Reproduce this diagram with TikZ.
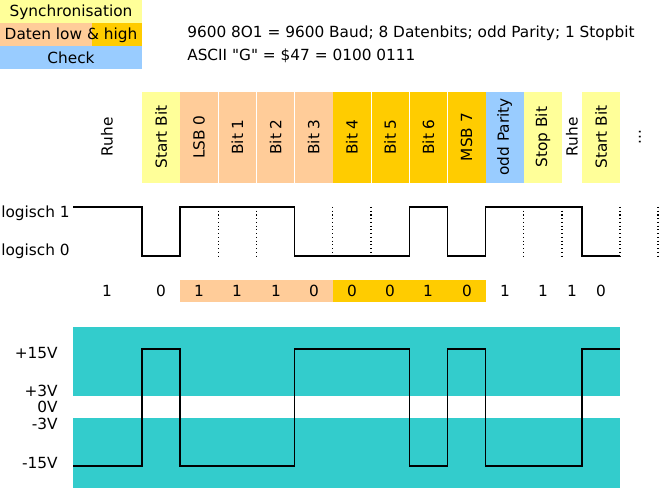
\documentclass[tikz,border=0pt]{standalone}
\usepackage{fontspec}
\setmainfont{DejaVu Sans}
\definecolor{sync}{HTML}{FFFF99}
\definecolor{datlow}{HTML}{FFCC99}
\definecolor{dathigh}{HTML}{FFCC00}
\definecolor{check}{HTML}{99CCFF}
\definecolor{level}{HTML}{33CCCC}
\tikzset{
	txt/.style = {font=\fontsize{11.5}{13}\selectfont, inner sep=0pt},
	hdr/.style = {txt, rotate=90},
	sig/.style = {thick, line join=miter},
	tick/.style = {thick, dotted},
}
\begin{document}
\begin{tikzpicture}[x=0.75pt, y=-0.75pt]
	\useasboundingbox (0,0) rectangle (660,488);
	% ====== Legend ========
	\fill[sync] (0,0) rectangle (142,23);
	\fill[datlow] (0,23) rectangle (92,46);
	\fill[dathigh] (92,23) rectangle (142,46);
	\fill[check] (0,46) rectangle (142,69);
	\node[txt] (lsync) at (71,12) {Synchronisation};
	\node[txt] (ldat) at (71,35) {Daten low \& high};
	\node[txt] (lchk) at (71,58) {Check};
	\node[txt, anchor=west] (info1) at (187,33) {9600 8O1 = 9600 Baud; 8 Datenbits; odd Parity; 1 Stopbit};
	\node[txt, anchor=west] (info2) at (187,56) {ASCII \textquotedbl G\textquotedbl{} = \$47 = 0100 0111};
	% ====== Header ========
	\foreach \x/\c/\t in {142/sync/Start Bit, 180/datlow/LSB 0, 218.2/datlow/Bit 1, 256.4/datlow/Bit 2,
		294.6/datlow/Bit 3, 332.8/dathigh/Bit 4, 371/dathigh/Bit 5, 409.2/dathigh/Bit 6,
		447.4/dathigh/MSB 7, 485.6/check/odd Parity, 523.8/sync/Stop Bit, 582/sync/Start Bit} {
		\fill[\c] (\x,92) rectangle +(38.2,91);
		\node[hdr] at (\x+19.1,137) {\t};
	}
	\foreach \x/\c in {180/datlow, 218.2/datlow, 256.4/datlow, 294.6/datlow, 332.8/dathigh, 371/dathigh, 409.2/dathigh, 447.4/dathigh}
		\fill[\c] (\x,280) rectangle +(38.2,22);
	\draw[white, thin] (218.2,92) -- (218.2,183) (256.4,92) -- (256.4,183) (294.6,92) -- (294.6,183)
		(371,92) -- (371,183) (409.2,92) -- (409.2,183) (447.4,92) -- (447.4,183);
	\node[hdr] (ruhe1) at (107,137) {Ruhe};
	\node[hdr] (ruhe2) at (572,137) {Ruhe};
	\node[hdr] (more) at (640,137) {...};
	% ====== Logic ========
	\node[txt, anchor=east] (log1) at (70,213) {logisch 1};
	\node[txt, anchor=east] (log0) at (70,251) {logisch 0};
	\draw[sig] (73,207) -- (142,207) -- (142,256) -- (180,256) -- (180,207) -- (294.6,207) -- (294.6,256)
		-- (409.2,256) -- (409.2,207) -- (447.4,207) -- (447.4,256) -- (485.6,256) -- (485.6,207)
		-- (582,207) -- (582,256) -- (620,256);
	\foreach \x in {218.2, 256.4, 332.8, 371, 523.8, 562, 620, 658}
		\draw[tick] (\x,207) -- (\x,256);
	\foreach \x/\b in {107/1, 161/0, 199/1, 237/1, 276/1, 314/0, 352/0, 390/0, 428/1, 467/0, 505/1, 543/1, 572/1, 601/0}
		\node[txt] at (\x,291) {\b};
	% ====== Levels ========
	\fill[level] (73,327) rectangle (620,396);
	\fill[level] (73,418) rectangle (620,488);
	\foreach \y/\t in {353/+15V, 391/+3V, 407/0V, 424/-3V, 463/-15V}
		\node[txt, anchor=east] at (58,\y) {\t};
	\draw[sig] (73,466) -- (142,466) -- (142,349) -- (180,349) -- (180,466) -- (294.6,466) -- (294.6,349)
		-- (409.2,349) -- (409.2,466) -- (447.4,466) -- (447.4,349) -- (485.6,349) -- (485.6,466)
		-- (582,466) -- (582,349) -- (620,349);
\end{tikzpicture}
\end{document}
